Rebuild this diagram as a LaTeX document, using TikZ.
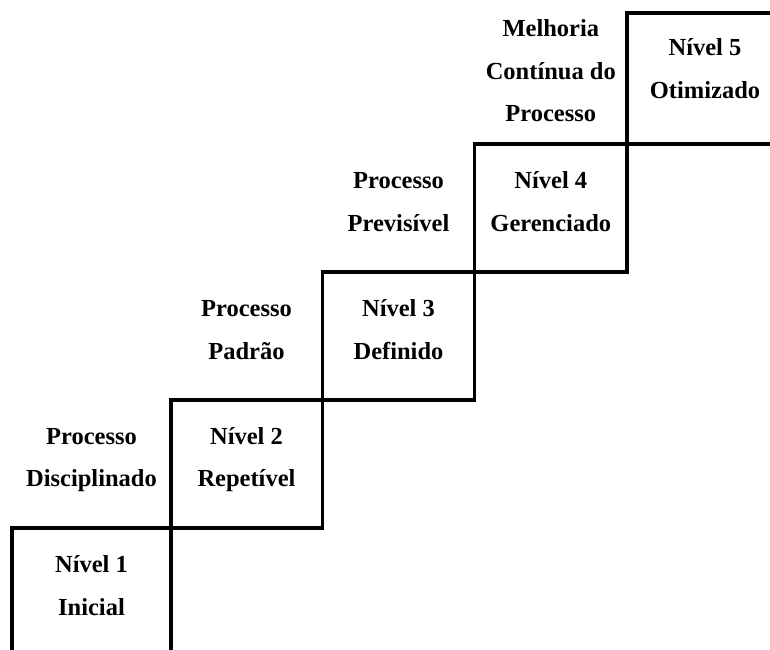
\documentclass[tikz,border=0pt]{standalone}
\usepackage{fontspec}
\setmainfont{Liberation Serif}
\begin{document}
\begin{tikzpicture}[x=1pt,y=-1pt,
  stair/.style={line width=3.3pt,line join=miter,line cap=rect},
  lbl/.style={anchor=base,align=center,inner sep=0pt,
    font=\fontsize{24.5}{42.7}\selectfont\bfseries}]
\useasboundingbox (0,0) rectangle (770,649);
% staircase
\draw[stair] (12,652) -- (12,528) -- (171,528) -- (171,652);
\draw[stair] (171,528) rectangle (322.5,400);
\draw[stair] (322.5,400) rectangle (474.5,272);
\draw[stair] (474.5,272) rectangle (627,144);
\draw[stair] (775,144) -- (627,144) -- (627,13) -- (775,13);
% labels (anchored at the baseline of the last line)
\node[lbl] (n1) at (91.5,615) {Nível 1\\Inicial};
\node[lbl] (p2) at (91.5,486.7) {Processo\\Disciplinado};
\node[lbl] (n2) at (246.5,486.7) {Nível 2\\Repetível};
\node[lbl] (p3) at (246.5,359.3) {Processo\\Padrão};
\node[lbl] (n3) at (398.5,359.3) {Nível 3\\Definido};
\node[lbl] (p4) at (398.5,231) {Processo\\Previsível};
\node[lbl] (n4) at (550.8,231) {Nível 4\\Gerenciado};
\node[lbl] (p5) at (550.8,121.7) {Melhoria\\Contínua do\\Processo};
\node[lbl] (n5) at (705,98.3) {Nível 5\\Otimizado};
\end{tikzpicture}
\end{document}
